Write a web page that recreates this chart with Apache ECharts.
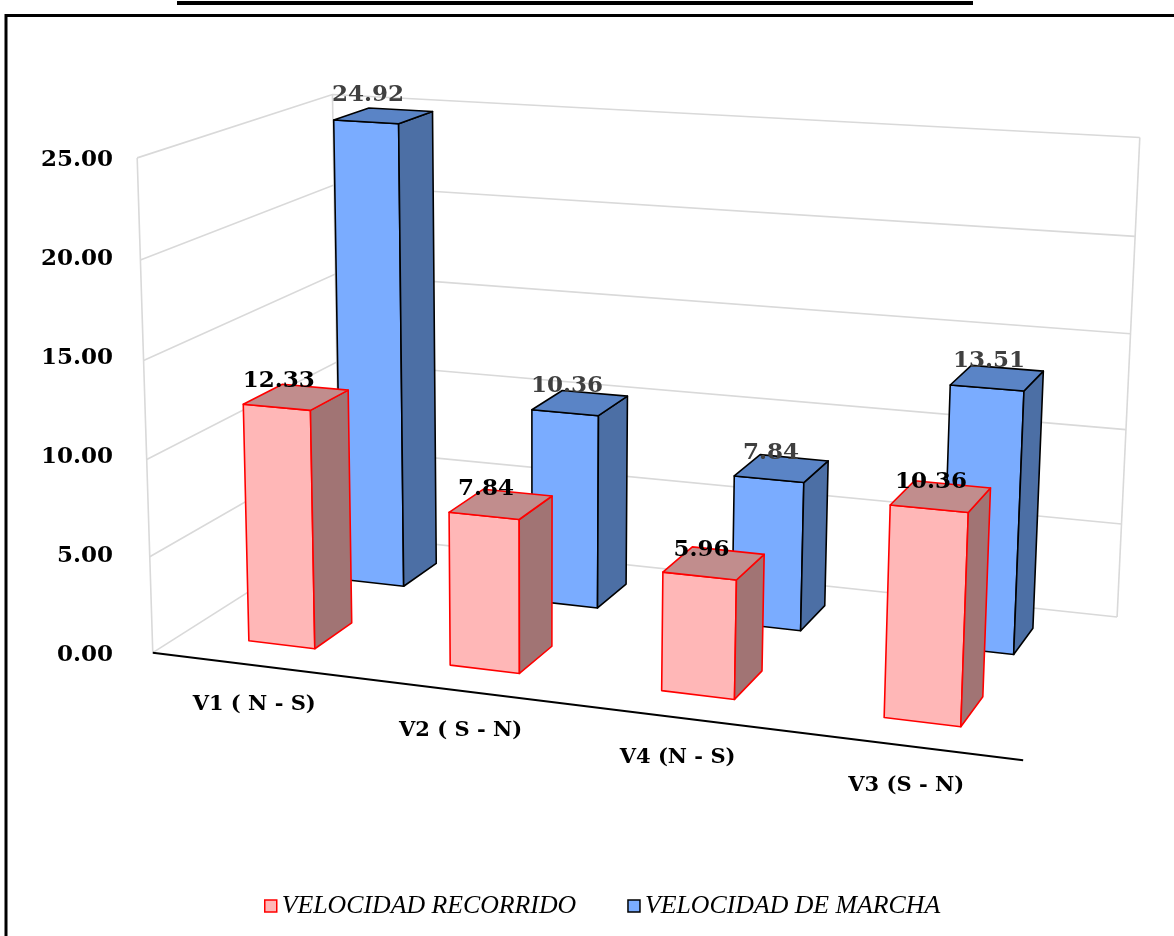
<!DOCTYPE html>
<html>
<head>
<meta charset="utf-8">
<script src="https://cdn.jsdelivr.net/npm/echarts@6/dist/echarts.min.js"></script>
<style>
  html, body { margin: 0; padding: 0; background: #ffffff; }
  #chart { width: 1174px; height: 936px; }
</style>
</head>
<body>
<div id="chart"></div>
<script>
// ---- data ----
const categories = ['V1 ( N - S)', 'V2 ( S - N)', 'V4 (N - S)', 'V3 (S - N)'];
const velocidadRecorrido = [12.33, 7.84, 5.96, 10.36];
const velocidadMarcha = [24.92, 10.36, 7.84, 13.51];
const seriesNames = ['VELOCIDAD RECORRIDO', 'VELOCIDAD DE MARCHA'];
const yTicks = [0, 5, 10, 15, 20, 25];
const Y_MAX = 25;

// ---- 3D view: unit box (X across categories, Y up the value axis, Z into depth) ----
const VIEW_ANCHORS = [
  [[0, 0, 0], [156, 651]],
  [[0, 1, 0], [134, 158]],
  [[0, 0, 1], [336, 536]],
  [[0, 1, 1], [336, 94]],
  [[1, 0, 1], [1118, 615]],
  [[1, 1, 1], [1139, 138]],
  [[1, 0, 0], [1023, 762]]
];
const BAR_WIDTH = 0.333;   // share of a category band
const BAR_DEPTH = 0.4;     // share of a series row
const SERIES_ROWS = 2;

// least-squares 3x4 perspective camera from the anchors
function solveCamera(anchors) {
  const A = [], b = [];
  anchors.forEach(([[X, Y, Z], [u, v]]) => {
    A.push([X, Y, Z, 1, 0, 0, 0, 0, -u * X, -u * Y, -u * Z]); b.push(u);
    A.push([0, 0, 0, 0, X, Y, Z, 1, -v * X, -v * Y, -v * Z]); b.push(v);
  });
  const n = 11;
  const M = [...Array(n)].map(() => new Array(n + 1).fill(0));
  for (let r = 0; r < A.length; r++) {
    for (let i = 0; i < n; i++) {
      for (let j = 0; j < n; j++) M[i][j] += A[r][i] * A[r][j];
      M[i][n] += A[r][i] * b[r];
    }
  }
  for (let c = 0; c < n; c++) {
    let p = c;
    for (let r = c + 1; r < n; r++) if (Math.abs(M[r][c]) > Math.abs(M[p][c])) p = r;
    [M[c], M[p]] = [M[p], M[c]];
    for (let r = 0; r < n; r++) {
      if (r === c) continue;
      const f = M[r][c] / M[c][c];
      for (let k = c; k <= n; k++) M[r][k] -= f * M[c][k];
    }
  }
  return M.map((row, i) => row[n] / row[i]);
}
const CAM = solveCamera(VIEW_ANCHORS);
function project(X, Y, Z) {
  const p = CAM;
  const w = p[8] * X + p[9] * Y + p[10] * Z + 1;
  return [(p[0] * X + p[1] * Y + p[2] * Z + p[3]) / w,
          (p[4] * X + p[5] * Y + p[6] * Z + p[7]) / w];
}

// category/value -> unit box coordinates, through the grid's own axes
function toBox(params, api, cat, val) {
  const cs = params.coordSys;
  const pt = api.coord([cat, val]);
  return [(pt[0] - cs.x) / cs.width, (cs.y + cs.height - pt[1]) / cs.height];
}

const GRID_COLOR = '#d9d9d9';
const NUM_FONT = 'DejaVu Serif';

function renderWalls(params, api) {
  const tick = api.value(1);
  const Y = toBox(params, api, 0, tick)[1];
  const children = [{
    type: 'polyline',
    shape: { points: [project(0, Y, 0), project(0, Y, 1), project(1, Y, 1)] },
    style: { stroke: GRID_COLOR, lineWidth: 1.6, fill: null }
  }];
  if (params.dataIndex === 0) {
    const top = toBox(params, api, 0, Y_MAX)[1];
    [[0, 0], [0, 1], [1, 1]].forEach(([x, z]) => {
      children.push({
        type: 'line',
        shape: { x1: project(x, 0, z)[0], y1: project(x, 0, z)[1], x2: project(x, top, z)[0], y2: project(x, top, z)[1] },
        style: { stroke: GRID_COLOR, lineWidth: 1.6 }
      });
    });
    const a = project(0, 0, 0), c = project(1, 0, 0);
    children.push({
      type: 'line',
      shape: { x1: a[0], y1: a[1], x2: c[0], y2: c[1] },
      style: { stroke: '#000000', lineWidth: 2 }
    });
  }
  return { type: 'group', children };
}

function renderCategoryLabel(params, api) {
  const idx = api.value(0);
  const X = toBox(params, api, idx, 0)[0];
  const p = project(X, 0, 0);
  return {
    type: 'text',
    x: p[0] + 2, y: p[1] + 40,
    style: {
      text: categories[idx], align: 'center', verticalAlign: 'middle',
      fontFamily: NUM_FONT, fontWeight: 'bold', fontSize: 21, fill: '#000000'
    }
  };
}

function barRenderer(row, look) {
  return function (params, api) {
    const cs = params.coordSys;
    const cat = api.value(0), val = api.value(1);
    const [cx, h] = toBox(params, api, cat, val);
    const band = api.size([1, 0])[0] / cs.width;
    const hw = band * BAR_WIDTH / 2;
    const zc = (row + 0.5) / SERIES_ROWS, hd = BAR_DEPTH / SERIES_ROWS / 2;
    const x0 = cx - hw, x1 = cx + hw, z0 = zc - hd, z1 = zc + hd;
    const faces = [
      [[x0, 0, z0], [x1, 0, z0], [x1, h, z0], [x0, h, z0], look.front],
      [[x1, 0, z0], [x1, 0, z1], [x1, h, z1], [x1, h, z0], look.side],
      [[x0, h, z0], [x1, h, z0], [x1, h, z1], [x0, h, z1], look.top]
    ];
    const children = faces.map(f => ({
      type: 'polygon',
      shape: { points: f.slice(0, 4).map(q => project(q[0], q[1], q[2])) },
      style: { fill: f[4], stroke: look.edge, lineWidth: 1.6, lineJoin: 'round' }
    }));
    const lp = project(cx, h, z0);
    children.push({
      type: 'text',
      x: lp[0] + 2, y: lp[1] - 15,
      z2: 10,
      style: {
        text: val.toFixed(2), align: 'center', verticalAlign: 'bottom',
        fontFamily: NUM_FONT, fontWeight: 'bold', fontSize: 23, fill: look.label
      }
    });
    return { type: 'group', children };
  };
}

const recorridoLook = { front: '#ffb7b7', side: '#a17474', top: '#c18d8d', edge: '#ff0000', label: '#000000' };
const marchaLook = { front: '#7aacff', side: '#4c6fa5', top: '#5a84c6', edge: '#000000', label: '#404040' };

const chart = echarts.init(document.getElementById('chart'), null, { renderer: 'canvas' });
chart.setOption({
  animation: false,
  backgroundColor: '#ffffff',
  grid: { left: 125, top: 160, right: 100, bottom: 281 },
  xAxis: { type: 'category', data: categories, show: false },
  yAxis: {
    type: 'value', min: 0, max: Y_MAX, interval: 5,
    axisLine: { show: false }, axisTick: { show: false }, splitLine: { show: false },
    axisLabel: {
      formatter: v => v.toFixed(2), margin: 12,
      fontFamily: NUM_FONT, fontWeight: 'bold', fontSize: 23, color: '#000000'
    }
  },
  legend: {
    left: 259, top: 888,
    itemWidth: 12, itemHeight: 12, itemGap: 51,
    icon: 'rect',
    textStyle: { fontFamily: 'Liberation Serif', fontStyle: 'italic', fontSize: 25.8, color: '#000000' },
    data: [
      { name: seriesNames[0], itemStyle: { color: recorridoLook.front, borderColor: recorridoLook.edge, borderWidth: 1.5 } },
      { name: seriesNames[1], itemStyle: { color: marchaLook.front, borderColor: marchaLook.edge, borderWidth: 1.5 } }
    ]
  },
  graphic: [
    { type: 'rect', shape: { x: 177, y: 1, width: 796, height: 4 }, style: { fill: '#000000' } },
    { type: 'rect', shape: { x: 6, y: 15.5, width: 1300, height: 1000 }, style: { fill: null, stroke: '#000000', lineWidth: 3 } }
  ],
  series: [
    {
      type: 'custom', z: 1, silent: true,
      data: yTicks.map(t => [0, t]),
      encode: { x: 0, y: 1 },
      renderItem: renderWalls
    },
    {
      type: 'custom', z: 1, silent: true,
      data: categories.map((c, i) => [i, 0]),
      encode: { x: 0, y: 1 },
      renderItem: renderCategoryLabel
    },
    {
      name: seriesNames[1], type: 'custom', z: 2,
      itemStyle: { color: marchaLook.front, borderColor: marchaLook.edge },
      data: velocidadMarcha.map((v, i) => [i, v]),
      encode: { x: 0, y: 1 },
      renderItem: barRenderer(1, marchaLook)
    },
    {
      name: seriesNames[0], type: 'custom', z: 3,
      itemStyle: { color: recorridoLook.front, borderColor: recorridoLook.edge },
      data: velocidadRecorrido.map((v, i) => [i, v]),
      encode: { x: 0, y: 1 },
      renderItem: barRenderer(0, recorridoLook)
    }
  ]
});
</script>
</body>
</html>
